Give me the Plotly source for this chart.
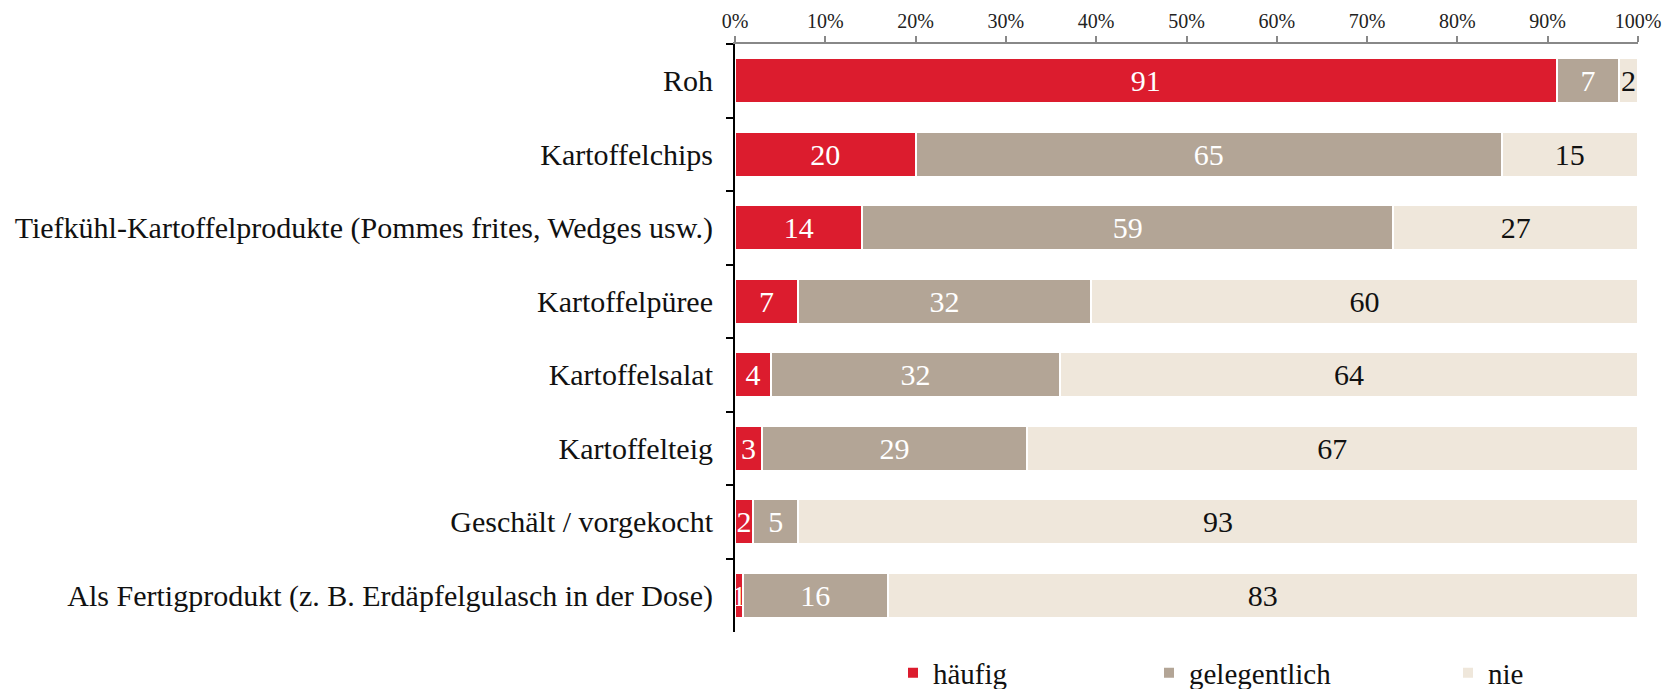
import plotly.graph_objects as go

categories = [
    "Roh",
    "Kartoffelchips",
    "Tiefkühl-Kartoffelprodukte (Pommes frites, Wedges usw.)",
    "Kartoffelpüree",
    "Kartoffelsalat",
    "Kartoffelteig",
    "Geschält / vorgekocht",
    "Als Fertigprodukt (z. B. Erdäpfelgulasch in der Dose)",
]
# bar lengths (percent)
haeufig = [91, 20, 14.1, 7, 4, 3, 2, 0.9]
gelegentlich = [6.9, 64.9, 58.8, 32.4, 32, 29.3, 5, 16]
nie = [2.1, 15.1, 27.1, 60.6, 64, 67.7, 93, 83.1]
# printed labels
haeufig_labels = ["91", "20", "14", "7", "4", "3", "2", "1"]
gelegentlich_labels = ["7", "65", "59", "32", "32", "29", "5", "16"]
nie_labels = ["2", "15", "27", "60", "64", "67", "93", "83"]
series_names = ["häufig", "gelegentlich", "nie"]
x_ticks = [0, 10, 20, 30, 40, 50, 60, 70, 80, 90, 100]
x_tick_labels = [f"{t}%" for t in x_ticks]

colors = ["#DC1C2E", "#B3A596", "#EFE7DB"]
text_colors = ["white", "white", "#111111"]
FONT = "Liberation Serif"

W, H = 1669, 681  # page body has an 8px margin

fig = go.Figure()
legend_ids = ["legend", "legend2", "legend3"]
for vals, labs, name, col, tcol, lg in zip(
        [haeufig, gelegentlich, nie], [haeufig_labels, gelegentlich_labels, nie_labels],
        series_names, colors, text_colors, legend_ids):
    fig.add_trace(go.Bar(
        y=categories, x=vals, name=name, orientation="h",
        marker=dict(color=col, line=dict(color="white", width=2)),
        text=labs, textposition="inside",
        insidetextanchor="middle",
        textfont=dict(color=tcol, size=30, family=FONT),
        hovertemplate="%{y}: %{text}<extra>" + name + "</extra>",
        legend=lg,
    ))

legend_common = dict(orientation="h", yanchor="middle", y=(H - 665) / H, yref="container", xref="container",
                     font=dict(size=29, family=FONT, color="#111111"),
                     bgcolor="rgba(0,0,0,0)", itemwidth=30)
fig.update_layout(
    barmode="stack",
    bargap=0.39,
    width=W, height=H,
    margin=dict(l=727, r=39, t=36, b=57, autoexpand=False),
    paper_bgcolor="white", plot_bgcolor="white",
    font=dict(family=FONT, color="#111111"),
    uniformtext=dict(mode="show", minsize=30),
    showlegend=True,
    legend=dict(legend_common, x=885 / W, xanchor="left"),
    legend2=dict(legend_common, x=1141 / W, xanchor="left"),
    legend3=dict(legend_common, x=1440 / W, xanchor="left"),
    xaxis=dict(side="top", range=[0, 100], tickvals=x_ticks, ticktext=x_tick_labels, automargin=False,
               showgrid=False, zeroline=False, showline=True, linecolor="#888888", linewidth=2,
               ticks="outside", ticklen=6, tickcolor="#888888", tickwidth=2, tickangle=0,
               tickfont=dict(size=20, family=FONT, color="#222222")),
    yaxis=dict(autorange="reversed", showgrid=False, zeroline=False, showline=True, automargin=False,
               linecolor="black", linewidth=2, ticks="outside", ticklen=7, tickcolor="black",
               tickwidth=2, tickson="boundaries", ticklabelstandoff=14,
               tickfont=dict(size=30, family=FONT, color="#111111")),
)
fig.write_html("out.html")
